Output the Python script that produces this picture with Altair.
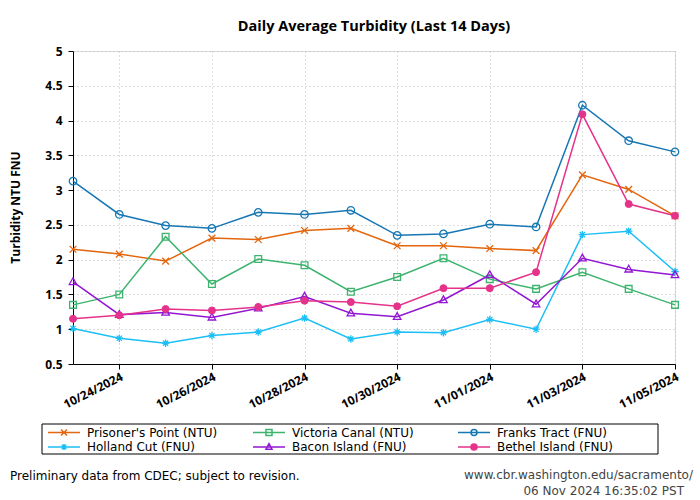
import altair as alt
import pandas as pd

dates = ["2024-10-23", "2024-10-24", "2024-10-25", "2024-10-26", "2024-10-27",
         "2024-10-28", "2024-10-29", "2024-10-30", "2024-10-31", "2024-11-01",
         "2024-11-02", "2024-11-03", "2024-11-04", "2024-11-05"]

series_names = ["Prisoner's Point (NTU)", "Victoria Canal (NTU)", "Franks Tract (FNU)",
                "Holland Cut (FNU)", "Bacon Island (FNU)", "Bethel Island (FNU)"]

prisoners_point = [2.15, 2.08, 1.98, 2.31, 2.29, 2.42, 2.45, 2.20, 2.20, 2.16, 2.13, 3.22, 3.01, 2.63]
victoria_canal = [1.35, 1.50, 2.33, 1.65, 2.01, 1.92, 1.54, 1.75, 2.02, 1.72, 1.58, 1.82, 1.58, 1.35]
franks_tract = [3.13, 2.65, 2.49, 2.45, 2.68, 2.65, 2.71, 2.35, 2.37, 2.51, 2.47, 4.22, 3.71, 3.55]
holland_cut = [1.01, 0.87, 0.80, 0.91, 0.96, 1.16, 0.86, 0.96, 0.95, 1.14, 1.00, 2.36, 2.41, 1.83]
bacon_island = [1.68, 1.21, 1.24, 1.17, 1.30, 1.47, 1.23, 1.18, 1.42, 1.78, 1.36, 2.02, 1.86, 1.78]
bethel_island = [1.15, 1.20, 1.29, 1.27, 1.32, 1.41, 1.39, 1.33, 1.59, 1.59, 1.82, 4.09, 2.80, 2.63]

y_ticks = [0.5, 1, 1.5, 2, 2.5, 3, 3.5, 4, 4.5, 5]
x_tick_dates = [(2024, 10, 24), (2024, 10, 26), (2024, 10, 28), (2024, 10, 30),
                (2024, 11, 1), (2024, 11, 3), (2024, 11, 5)]

title_text = "Daily Average Turbidity (Last 14 Days)"
y_title = "Turbidity NTU FNU"
footer_left = ["Preliminary data from CDEC; subject to revision."]
footer_right_1 = ["www.cbr.washington.edu/sacramento/"]
footer_right_2 = ["06 Nov 2024 16:35:02 PST"]

colors = ["#e3650d", "#3cb46e", "#1677b3", "#1cbff5", "#9216d2", "#e5328a"]

# plot marker shapes (unit square -1..1)
marker_shapes = [
    "M-0.9,-0.9L0.9,0.9M-0.9,0.9L0.9,-0.9",
    "M-0.9,-0.9L0.9,-0.9L0.9,0.9L-0.9,0.9Z",
    "circle",
    "M-1,0L1,0M0,-1L0,1M-0.7,-0.7L0.7,0.7M-0.7,0.7L0.7,-0.7",
    "M0,-1.1L1,0.7L-1,0.7Z",
    "circle",
]

# legend symbols: line with marker (units of 5px, symbol centre at left)
legend_paths = [
    "M-1,0L5.4,0M1.6,-0.6L2.8,0.6M1.6,0.6L2.8,-0.6",
    "M-1,0L5.4,0M1.6,-0.6L2.8,-0.6L2.8,0.6L1.6,0.6Z",
    "M-1,0L5.4,0M1.6,0A0.6,0.6 0 1,1 2.8,0A0.6,0.6 0 1,1 1.6,0Z",
    "M-1,0L5.4,0M2.2,-0.6L2.2,0.6M1.75,-0.45L2.65,0.45M1.75,0.45L2.65,-0.45",
    "M-1,0L5.4,0M2.2,-0.7L2.8,0.45L1.6,0.45Z",
    "M-1,0L5.4,0M1.6,0A0.6,0.6 0 1,1 2.8,0A0.6,0.6 0 1,1 1.6,0Z",
]

rows = []
for name, vals in zip(series_names, [prisoners_point, victoria_canal, franks_tract,
                                      holland_cut, bacon_island, bethel_island]):
    for d, v in zip(dates, vals):
        rows.append({"date": d + "T00:00:00", "series": name, "value": v})
df = pd.DataFrame(rows)

shape_expr = "indexof(datum.value, 'Prisoner') == 0 ? '%s' : " % legend_paths[0]
for nm, p in zip(series_names[1:], legend_paths[1:]):
    shape_expr += "datum.value == '%s' ? '%s' : " % (nm, p)
shape_expr += "'circle'"
fill_expr = "datum.value == 'Bethel Island (FNU)' ? '%s' : 'transparent'" % colors[5]

legend = alt.Legend(
    title=None, orient="none", legendX=-30, legendY=371, direction="horizontal",
    columns=3, gridAlign="all", columnPadding=32, rowPadding=1,
    padding=4, labelFont="DejaVu Sans", labelFontSize=12,
    labelColor="black", symbolSize=100, symbolStrokeWidth=1.5, labelOffset=28,
    symbolOpacity=1,
    symbolType={"expr": shape_expr},
    symbolFillColor={"expr": fill_expr},
)

scale_c = alt.Scale(domain=series_names, range=colors)
stroke = alt.Stroke("series:N", scale=scale_c, legend=legend)
stroke_nolegend = alt.Stroke("series:N", scale=scale_c, legend=None)

x_enc = alt.X(
    "date:T",
    scale=alt.Scale(domain=[alt.DateTime(year=2024, month=10, date=23),
                            alt.DateTime(year=2024, month=11, date=5)], nice=False),
    axis=alt.Axis(
        title=None, format="%m/%d/%Y",
        values=[alt.DateTime(year=a, month=b, date=c) for a, b, c in x_tick_dates],
        labelAngle=-27, labelAlign="right", labelBaseline="top", labelPadding=2,
        labelFont="Open Sans", labelFontWeight="bold", labelFontSize=12, labelColor="black",
        tickColor="black", tickSize=5, domainColor="black",
        grid=True, gridDash=[1, 3], gridColor="#bbbbbb", labelOverlap=False,
    ),
)
y_enc = alt.Y(
    "value:Q",
    scale=alt.Scale(domain=[0.5, 5], nice=False, zero=False),
    axis=alt.Axis(
        title=y_title, values=y_ticks, format="~g",
        labelFont="Open Sans", labelFontWeight="bold", labelFontSize=12, labelColor="black",
        labelPadding=6, tickColor="black", tickSize=5, domainColor="black",
        titleFont="Open Sans", titleFontWeight="bold", titleFontSize=12, titleColor="black",
        titleX=-58, titleY=156, titleAngle=270, titleAlign="center", titleBaseline="middle",
        grid=True, gridDash=[1, 3], gridColor="#bbbbbb",
    ),
)

base = alt.Chart(df)

lines = base.mark_line(strokeWidth=1.5).encode(x=x_enc, y=y_enc, stroke=stroke)

open_points = base.transform_filter(
    alt.datum.series != "Bethel Island (FNU)"
).mark_point(filled=False, size=56, strokeWidth=1.3, opacity=1).encode(
    x=x_enc, y=y_enc, stroke=stroke_nolegend,
    shape=alt.Shape("series:N", scale=alt.Scale(domain=series_names, range=marker_shapes), legend=None),
)

filled_points = base.transform_filter(
    alt.datum.series == "Bethel Island (FNU)"
).mark_point(filled=True, shape="circle", size=49, strokeWidth=1, opacity=1, fill=colors[5]).encode(
    x=x_enc, y=y_enc, stroke=stroke_nolegend,
)

# frame around the legend
legend_box = alt.Chart(pd.DataFrame({"k": [0]})).mark_rect(
    fill=None, stroke="black", strokeWidth=1
).encode(x=alt.value(-31), x2=alt.value(585), y=alt.value(373), y2=alt.value(403))

t_left = alt.Chart(pd.DataFrame({"t": footer_left})).mark_text(
    align="left", baseline="middle", font="DejaVu Sans", fontSize=12, color="black"
).encode(text="t:N", x=alt.value(-63), y=alt.value(425))

t_r1 = alt.Chart(pd.DataFrame({"t": footer_right_1})).mark_text(
    align="right", baseline="middle", font="DejaVu Sans", fontSize=12, color="#444444"
).encode(text="t:N", x=alt.value(620), y=alt.value(424))

t_r2 = alt.Chart(pd.DataFrame({"t": footer_right_2})).mark_text(
    align="right", baseline="middle", font="DejaVu Sans", fontSize=12, color="#444444"
).encode(text="t:N", x=alt.value(611), y=alt.value(440))

chart = alt.layer(lines, open_points, filled_points, legend_box, t_left, t_r1, t_r2).properties(
    width=602, height=313,
    title=alt.TitleParams(title_text, font="Open Sans", fontSize=14.5, fontWeight="bold",
                          anchor="middle", offset=11, color="black"),
    autosize=alt.AutoSizeParams(type="none"),
    padding={"left": 73, "top": 51, "right": 25, "bottom": 136},
).resolve_scale(shape="independent").configure_view(
    stroke="black", strokeWidth=1
).configure(background="white")

chart.save("out.html", embed_options={"renderer": "svg", "actions": False})
